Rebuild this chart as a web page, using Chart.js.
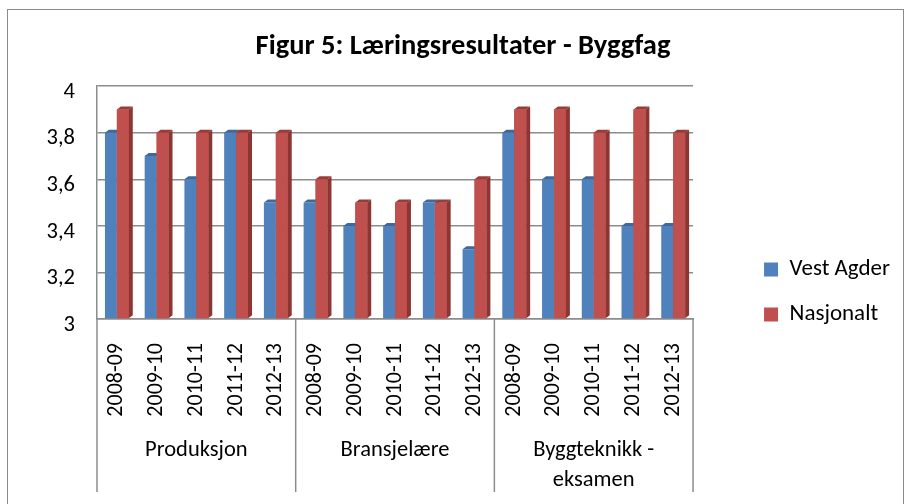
<!DOCTYPE html>
<html>
<head>
<meta charset="utf-8">
<script src="https://cdn.jsdelivr.net/npm/chart.js@4.4.1/dist/chart.umd.min.js"></script>
<style>
  html, body { margin: 0; padding: 0; background: #fff; }
  #wrap { width: 906px; height: 504px; }
</style>
</head>
<body>
<div id="wrap"><canvas id="grafLaering" width="906" height="504"></canvas></div>
<script>
// data
const years = ['2008-09', '2009-10', '2010-11', '2011-12', '2012-13'];
const groups = ['Produksjon', 'Bransjelære', ['Byggteknikk -', 'eksamen']];
const vestAgder = [3.8, 3.7, 3.6, 3.8, 3.5, 3.5, 3.4, 3.4, 3.5, 3.3, 3.8, 3.6, 3.6, 3.4, 3.4];
const nasjonalt = [3.9, 3.8, 3.8, 3.8, 3.8, 3.6, 3.5, 3.5, 3.5, 3.6, 3.9, 3.9, 3.8, 3.9, 3.8];
const yMin = 3, yMax = 4, yStep = 0.2;

const labels = groups.flatMap(() => years);
const fontFam = 'Carlito, Lato, "Liberation Sans", sans-serif';
const gridColor = '#8c8c8c';

// fake excel 3d look: side and top faces on the bars
const faces = {
    side: ['#3b6496', '#8c3533'],
    top: ['#41689c', '#9b3a37']
};
const depthPlugin = {
    id: 'depth',
    afterDatasetsDraw(chart) {
        const ctx = chart.ctx;
        const dx = 4, dy = 3;
        [0, 1].forEach(i => {
            const meta = chart.getDatasetMeta(i);
            meta.data.forEach(bar => {
                if (i === 1) bar.draw(ctx);
                const p = bar.getProps(['x', 'y', 'base', 'width'], true);
                const l = p.x - p.width / 2, r = p.x + p.width / 2;
                ctx.save();
                ctx.fillStyle = faces.side[i];
                ctx.beginPath();
                ctx.moveTo(r, p.y);
                ctx.lineTo(r + dx, p.y - dy);
                ctx.lineTo(r + dx, p.base - dy);
                ctx.lineTo(r, p.base);
                ctx.closePath();
                ctx.fill();
                ctx.fillStyle = faces.top[i];
                ctx.beginPath();
                ctx.moveTo(l, p.y);
                ctx.lineTo(l + dx, p.y - dy);
                ctx.lineTo(r + dx, p.y - dy);
                ctx.lineTo(r, p.y);
                ctx.closePath();
                ctx.fill();
                ctx.restore();
            });
        });
    }
};

// group separators under the axis + outer frame
const framePlugin = {
    id: 'frame',
    afterDraw(chart) {
        const ctx = chart.ctx;
        const xs = chart.scales.x;
        const x2 = chart.scales.x2;
        const step = xs.getPixelForValue(1) - xs.getPixelForValue(0);
        ctx.save();
        ctx.strokeStyle = gridColor;
        ctx.lineWidth = 1.5;
        for (let g = 0; g <= groups.length; g++) {
            const px = xs.getPixelForValue(g * years.length) - step / 2;
            ctx.beginPath();
            ctx.moveTo(px, xs.top);
            ctx.lineTo(px, x2.bottom);
            ctx.stroke();
        }
        ctx.strokeStyle = '#8a8a8a';
        ctx.lineWidth = 1;
        ctx.strokeRect(7.5, 9.5, 896, 520);
        ctx.restore();
    }
};

new Chart(document.getElementById('grafLaering'), {
    type: 'bar',
    data: {
        labels: labels,
        datasets: [
            {
                label: 'Vest Agder',
                data: vestAgder,
                base: yMin,
                backgroundColor: '#4f81bd',
                categoryPercentage: 0.6,
                barPercentage: 1
            },
            {
                label: 'Nasjonalt',
                data: nasjonalt,
                base: yMin,
                backgroundColor: '#c0504d',
                categoryPercentage: 0.6,
                barPercentage: 1
            }
        ]
    },
    options: {
        responsive: false,
        animation: false,
        devicePixelRatio: 1,
        layout: {
            padding: { left: 26, right: 6, top: 0, bottom: 12 }
        },
        plugins: {
            title: {
                display: true,
                text: 'Figur 5: Læringsresultater - Byggfag',
                color: '#000',
                font: { family: fontFam, size: 28.5, weight: 'bold' },
                padding: { top: 30, bottom: 22 }
            },
            legend: {
                position: 'right',
                maxWidth: 300,
                title: { display: true, text: ' ', font: { size: 10 }, padding: { top: 40, bottom: 40 } },
                labels: {
                    color: '#000',
                    font: { family: fontFam, size: 23 },
                    boxWidth: 14,
                    boxHeight: 14,
                    padding: 22
                }
            },
            tooltip: { enabled: false }
        },
        scales: {
            x: {
                grid: { display: false },
                border: { display: true, color: gridColor, width: 1.5 },
                afterFit(scale) { scale.height = 107; },
                ticks: {
                    color: '#000',
                    font: { family: fontFam, size: 22 },
                    minRotation: 90,
                    maxRotation: 90,
                    autoSkip: false,
                    padding: 16
                }
            },
            x2: {
                type: 'category',
                position: 'bottom',
                labels: groups,
                offset: true,
                weight: 1,
                grid: { display: false },
                border: { display: false },
                afterFit(scale) { scale.height = 66; },
                ticks: {
                    color: '#000',
                    font: { family: fontFam, size: 22.5, lineHeight: 1.3 },
                    maxRotation: 0,
                    autoSkip: false,
                    padding: 2
                }
            },
            y: {
                min: yMin,
                max: yMax,
                grid: { color: gridColor, lineWidth: 1.5, drawTicks: false },
                border: { display: true, color: gridColor, width: 1.5 },
                afterFit(scale) { scale.width = 71; },
                ticks: {
                    stepSize: yStep,
                    color: '#000',
                    padding: 22,
                    labelOffset: 6,
                    font: { family: fontFam, size: 22.5 },
                    callback: v => String(Number(v.toFixed(1))).replace('.', ',')
                }
            },
            yR: {
                type: 'linear',
                position: 'right',
                grid: { display: false },
                border: { display: false },
                ticks: { display: false },
                afterFit(scale) { scale.width = 49; }
            }
        }
    },
    plugins: [depthPlugin, framePlugin]
});
</script>
</body>
</html>
